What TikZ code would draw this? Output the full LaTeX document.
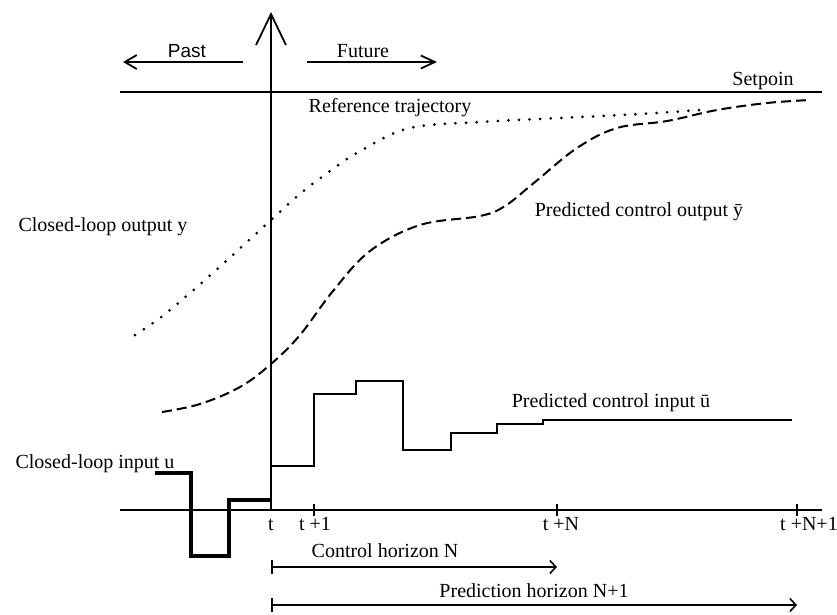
\documentclass[tikz,border=0pt]{standalone}
\usepackage{fontspec}
\setmainfont{Liberation Serif}
\newfontfamily\pastfont{Liberation Sans}
\usetikzlibrary{arrows.meta}

\begin{document}
\begin{tikzpicture}[x=1pt,y=-1pt,
  axis/.style={line width=1.8pt},
  lbl/.style={inner sep=0pt,font=\fontsize{20}{24}\selectfont},
  refpath/.style={line width=3pt,line cap=round,dash pattern=on 0pt off 10.6pt},
  predpath/.style={line width=2pt,dash pattern=on 10pt off 5pt},
  horizon/.style={line width=1.6pt,{Bar[width=14pt]}-{Straight Barb[length=6pt,width=13pt]}}]
  \useasboundingbox (0,0) rectangle (837,614);

  % Time axis and the present instant t
  \coordinate (t) at (271,510);
  \coordinate (ttop) at (271,12);
  \draw[axis] (120,510) -- (822,510);
  \draw[axis,-{Straight Barb[length=31pt,width=30pt]}] (t) -- (ttop);
  \foreach \x/\name in {314/tone,557/tN,797/tNone}
    \draw[axis] (\x,504) coordinate (\name) -- (\x,516);

  % Past and future
  \coordinate (pastA) at (243,62);
  \coordinate (pastB) at (123,62);
  \coordinate (futA) at (307,62);
  \coordinate (futB) at (437,62);
  \draw[axis,-{Straight Barb[length=12pt,width=14pt]}] (pastA) -- (pastB);
  \draw[axis,-{Straight Barb[length=14pt,width=13pt]}] (futA) -- (futB);
  \node[lbl,font=\pastfont\fontsize{19}{24}\selectfont] (past) at (187,51) {Past};
  \node[lbl] (future) at (363,51) {Future};

  % Setpoint
  \draw[axis] (120,92) -- (822,92);
  \node[lbl] (setpoint) at (763,81) {Setpoin};

  % Reference trajectory (dotted)
  \draw[refpath] plot[smooth,tension=0.6] coordinates {(135,335) (160,318) (190,293)
    (225,262) (271,220) (300,194) (330,171) (362,150) (410,128) (480,122) (560,118)
    (640,114) (700,110)};
  \node[lbl] (reftxt) at (390,108) {Reference trajectory};

  % Predicted control output (dashed)
  \draw[predpath] plot[smooth,tension=0.6] coordinates {(162,412) (200,404) (240,387)
    (271,364) (300,335) (333,291) (370,251) (420,225) (480,216) (505,206) (535,182)
    (577,148) (617,128) (667,121) (717,110) (767,103) (810,100)};
  \node[lbl] (predout) at (639,212) {Predicted control output \=y};
  \node[lbl] (closedout) at (103,227) {Closed-loop output y};

  % Closed-loop input (thick) and predicted control input
  \draw[line width=4.5pt] (155,473) -- (191,473) -- (191,556) -- (229,556)
    -- (229,500) -- (271,500);
  \draw[line width=1.8pt] (271,466) -- (314,466) -- (314,394) -- (356,394)
    -- (356,381) -- (403,381) -- (403,450) -- (451,450) -- (451,433) -- (497,433)
    -- (497,424) -- (543,424) -- (543,420) -- (792,420);
  \node[lbl] (predin) at (611,403) {Predicted control input \=u};
  \node[lbl] (closedin) at (95,464) {Closed-loop input u};

  % Tick labels
  \node[lbl,anchor=base] (lt) at (271,530) {t};
  \node[lbl,anchor=base] (ltone) at (315,530) {t +1};
  \node[lbl,anchor=base] (ltN) at (561,530) {t +N};
  \node[lbl,anchor=base west] (ltNone) at (780,530) {t +N+1};

  % Horizons
  \coordinate (ch) at (557,567);
  \coordinate (ph) at (797,605);
  \draw[horizon] (t |- ch) -- (ch);
  \draw[horizon] (t |- ph) -- (ph);
  \node[lbl] (chtxt) at (385,551) {Control horizon N};
  \node[lbl] (phtxt) at (534,591) {Prediction horizon N+1};
\end{tikzpicture}
\end{document}
